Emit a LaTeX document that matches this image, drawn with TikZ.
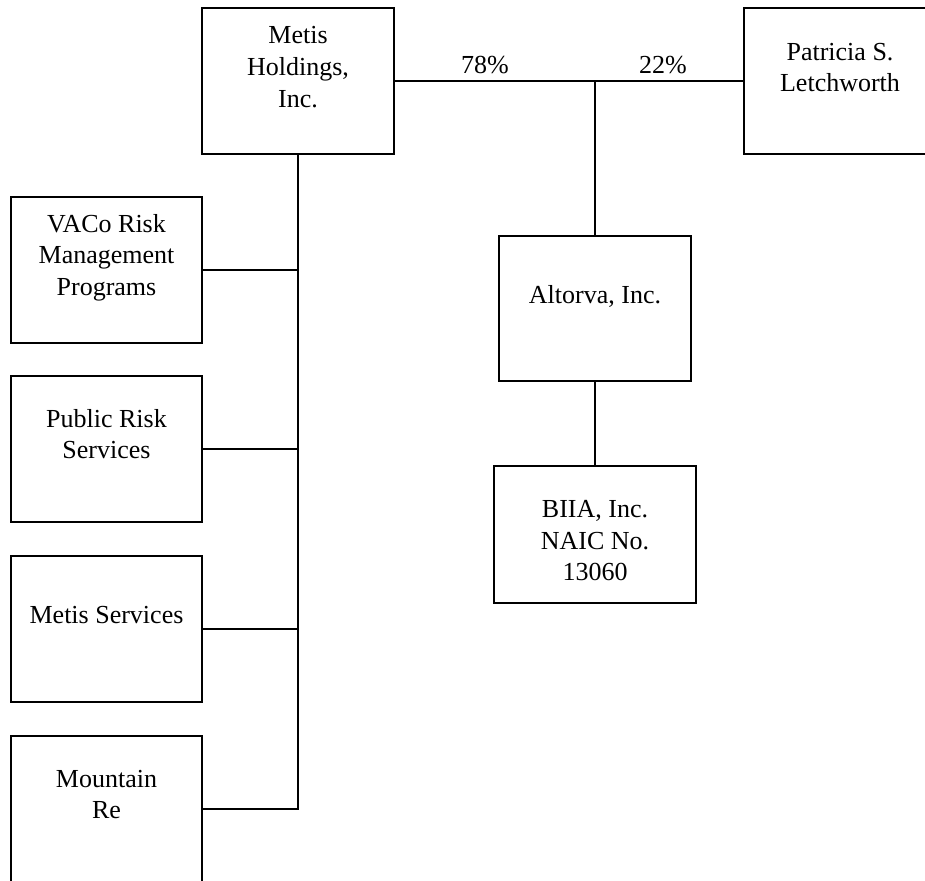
\documentclass[tikz,border=0pt]{standalone}
\usepackage{fontspec}
\setmainfont{Liberation Serif}
\begin{document}
\begin{tikzpicture}[x=1pt,y=-1pt,
  box/.style={draw=black, line width=1.8pt, rectangle, inner sep=0pt},
  conn/.style={draw=black, line width=1.4pt},
  txt/.style={anchor=north, inner sep=0pt, align=center, font=\fontsize{26}{31.6}\selectfont},
  pct/.style={anchor=base, inner sep=0pt, font=\fontsize{26}{31.6}\selectfont}]
\clip (0,0) rectangle (925,880);
% boxes
\node[box, minimum width=192pt, minimum height=146pt] (mh) at (298,81) {};
\node[box, minimum width=192pt, minimum height=146pt] (pat) at (840,81) {};
\node[box, minimum width=191pt, minimum height=146pt] (vaco) at (106.5,270) {};
\node[box, minimum width=191pt, minimum height=146pt] (prs) at (106.5,449) {};
\node[box, minimum width=191pt, minimum height=146pt] (ms) at (106.5,629) {};
\node[box, minimum width=191pt, minimum height=146pt] (mr) at (106.5,809) {};
\node[box, minimum width=192pt, minimum height=145pt] (alt) at (595,308.5) {};
\node[box, minimum width=202pt, minimum height=137pt] (biia) at (595,534.5) {};
% texts (first baseline - 22.12)
\node[txt] (mhT) at (298,21.5) {\strut Metis\\Holdings,\\Inc.};
\node[txt] (patT) at (840,37.9) {\strut Patricia S.\\Letchworth};
\node[txt] (vacoT) at (106.5,209.9) {\strut VACo Risk\\Management\\Programs};
\node[txt] (prsT) at (106.5,404.9) {\strut Public Risk\\Services};
\node[txt] (msT) at (106.5,600.9) {\strut Metis Services};
\node[txt] (mrT) at (106.5,764.9) {\strut Mountain\\Re};
\node[txt] (altT) at (595,280.9) {\strut Altorva, Inc.};
\node[txt] (biiaT) at (595,495.2) {\strut BIIA, Inc.\\NAIC No.\\13060};
% connectors
\draw[conn] (mh.south) |- (mr.east);
\draw[conn] (vaco.east) -- (vaco.east -| mh.south);
\draw[conn] (prs.east) -- (prs.east -| mh.south);
\draw[conn] (ms.east) -- (ms.east -| mh.south);
\draw[conn] (mh.east) -- (pat.west);
\coordinate (j) at (alt.north |- mh.east);
\draw[conn] (j) -- (alt.north);
\draw[conn] (alt.south) -- (biia.north);
% percentages
\node[pct] (p78) at (485,74) {78\%};
\node[pct] (p22) at (663,74) {22\%};
\end{tikzpicture}
\end{document}
